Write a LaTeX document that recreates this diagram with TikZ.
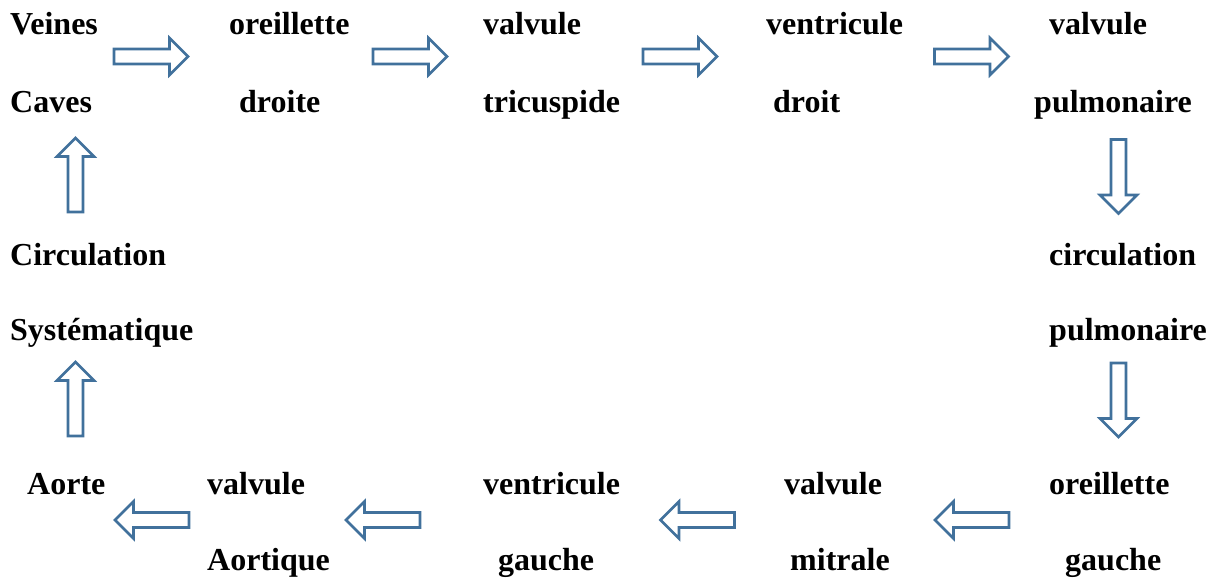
\documentclass[tikz,border=0pt]{standalone}
\usepackage{fontspec}
\setmainfont{Liberation Serif}
\begin{document}
\begin{tikzpicture}[x=1pt,y=-1pt,
  lbl/.style={anchor=base west,inner sep=0pt,font=\fontsize{32}{38}\selectfont\bfseries},
  blockarrow/.pic={
    \draw[draw=arrowblue,line width=2.6pt,line join=miter,fill=white]
      (-37,-7.5) -- (18.5,-7.5) -- (18.5,-18.5) -- (37,0)
      -- (18.5,18.5) -- (18.5,7.5) -- (-37,7.5) -- cycle;
  }]
\definecolor{arrowblue}{HTML}{41719C}
\useasboundingbox (0,0) rectangle (1216,578);

% top row: right side of the heart
\node[lbl] (veines)  at (10,35)   {Veines};
\node[lbl] (caves)   at (10,112)  {Caves};
\node[lbl] (od1)     at (229,35)  {oreillette};
\node[lbl] (od2)     at (239,112) {droite};
\node[lbl] (vt1)     at (483,35)  {valvule};
\node[lbl] (vt2)     at (483,112) {tricuspide};
\node[lbl] (vd1)     at (766,35)  {ventricule};
\node[lbl] (vd2)     at (773,112) {droit};
\node[lbl] (vp1)     at (1049,35) {valvule};
\node[lbl] (vp2)     at (1034,112){pulmonaire};

% middle rows
\node[lbl] (cs1)     at (10,265)  {Circulation};
\node[lbl] (cs2)     at (10,340)  {Systématique};
\node[lbl] (cp1)     at (1049,265){circulation};
\node[lbl] (cp2)     at (1049,340){pulmonaire};

% bottom row: left side of the heart
\node[lbl] (aorte)   at (27,494)  {Aorte};
\node[lbl] (va1)     at (207,494) {valvule};
\node[lbl] (va2)     at (207,570) {Aortique};
\node[lbl] (vg1)     at (483,494) {ventricule};
\node[lbl] (vg2)     at (498,570) {gauche};
\node[lbl] (vm1)     at (784,494) {valvule};
\node[lbl] (vm2)     at (790,570) {mitrale};
\node[lbl] (og1)     at (1049,494){oreillette};
\node[lbl] (og2)     at (1065,570){gauche};

% block arrows
\pic at (151,56.5) {blockarrow};
\pic at (410,56.5) {blockarrow};
\pic at (680,56.5) {blockarrow};
\pic at (971.5,56.5) {blockarrow};

\pic[rotate=-90] at (1118.5,176.5) {blockarrow};
\pic[rotate=-90] at (1118.5,400) {blockarrow};

\pic[rotate=180] at (152,520) {blockarrow};
\pic[rotate=180] at (383,520) {blockarrow};
\pic[rotate=180] at (697.5,520) {blockarrow};
\pic[rotate=180] at (972,520) {blockarrow};

\pic[rotate=90] at (75.5,175) {blockarrow};
\pic[rotate=90] at (75.5,399) {blockarrow};
\end{tikzpicture}
\end{document}
